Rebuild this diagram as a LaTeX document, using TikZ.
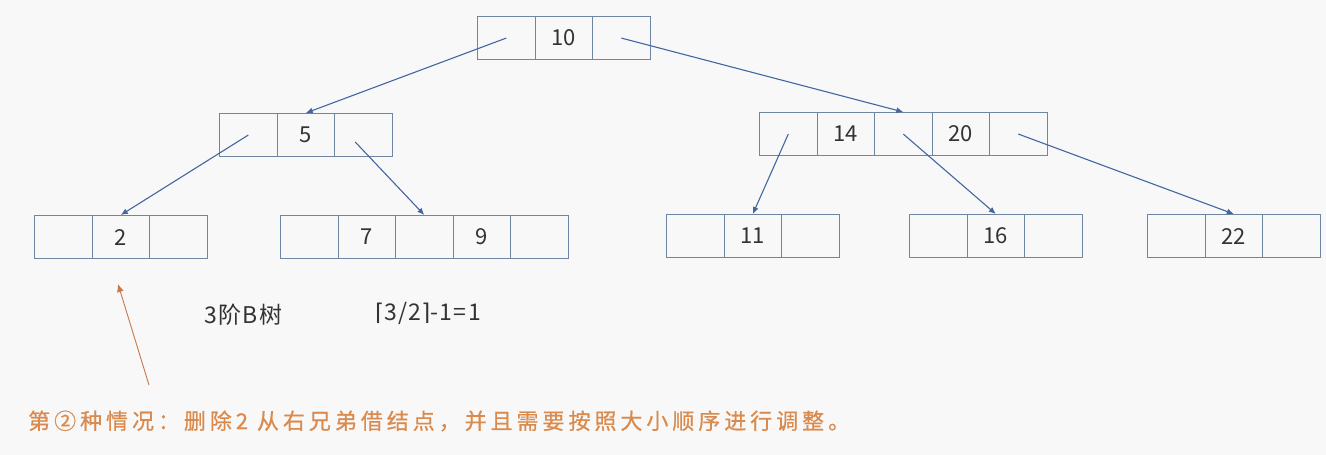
\documentclass[tikz,border=0pt]{standalone}
\usepackage{fontspec}
\setmainfont{Noto Sans CJK SC}
\newfontfamily\symfont{DejaVu Sans}
\usepackage{xcolor}
\usepackage{tikz}
\usetikzlibrary{arrows.meta,positioning,calc}
\definecolor{figbg}{HTML}{F8F8F8}
\definecolor{figbox}{HTML}{6F86A3}
\definecolor{figarrow}{HTML}{4466A0}
\definecolor{figtext}{HTML}{333333}
\definecolor{figorange}{HTML}{D98A4C}
\definecolor{figpointer}{HTML}{C8784A}

\newcommand{\bnode}[4]{%
  \foreach \k [count=\i] in {#4}
    \node[cell] (#1\i) at ({#2+(\i-1)*\cellw},#3) {\k};}

\begin{document}
\begin{tikzpicture}[x=1pt,y=-1pt,
  cell/.style={draw=figbox, line width=1.1pt, minimum width=57.5pt, minimum height=43pt,
    inner sep=0pt, anchor=north west, text=figtext, font=\fontsize{22}{22}\selectfont},
  link/.style={draw=figarrow, line width=1.1pt, -{Latex[length=7pt,width=6pt]}},
  hint/.style={draw=figpointer, line width=0.9pt, -{Latex[length=8pt,width=7pt]}},
  label/.style={text=figtext, font=\fontsize{23}{23}\selectfont\addfontfeature{LetterSpace=6}}]
\def\cellw{57.5}
\fill[figbg] (0,0) rectangle (1326,455);
\useasboundingbox (0,0) rectangle (1326,455);

% level 0
\bnode{root}{477}{16}{{},10,{}}
% level 1
\bnode{lft}{219}{113}{{},5,{}}
\bnode{rgt}{759}{112}{{},14,{},20,{}}
% leaves
\bnode{la}{34}{215}{{},2,{}}
\bnode{lb}{280}{215}{{},7,{},9,{}}
\bnode{ra}{666}{214}{{},11,{}}
\bnode{rb}{909}{214}{{},16,{}}
\bnode{rc}{1147}{214}{{},22,{}}

\draw[link] (root1.center) -- (lft2.north);
\draw[link] (root3.center) -- (rgt3.north);
\draw[link] (lft1.center) -- (la2.north);
\draw[link] ($(lft3.center)+(-8,7)$) -- (lb3.north);
\draw[link] (rgt1.center) -- (ra2.north);
\draw[link] (rgt3.center) -- (rb2.north);
\draw[link] (rgt5.center) -- (rc2.north);

\node[label] (order) at (243.5,315) {3阶B树};
\node[label] (minkeys) at (428,313)
  {{\symfont ⌈}3/2{\symfont ⌉}-1=1};

\coordinate (ptrtail) at (149,385);
\coordinate (ptrhead) at (118,284);
\draw[hint] (ptrtail) -- (ptrhead);

\node[anchor=west, inner sep=0pt, text=figorange,
  font=\fontsize{22}{22}\selectfont\addfontfeature{LetterSpace=18,FakeBold=0.6}] (note) at (28,421)
  {第②种情况：删除2 从右兄弟借结点，并且需要按照大小顺序进行调整。};
\end{tikzpicture}
\end{document}
